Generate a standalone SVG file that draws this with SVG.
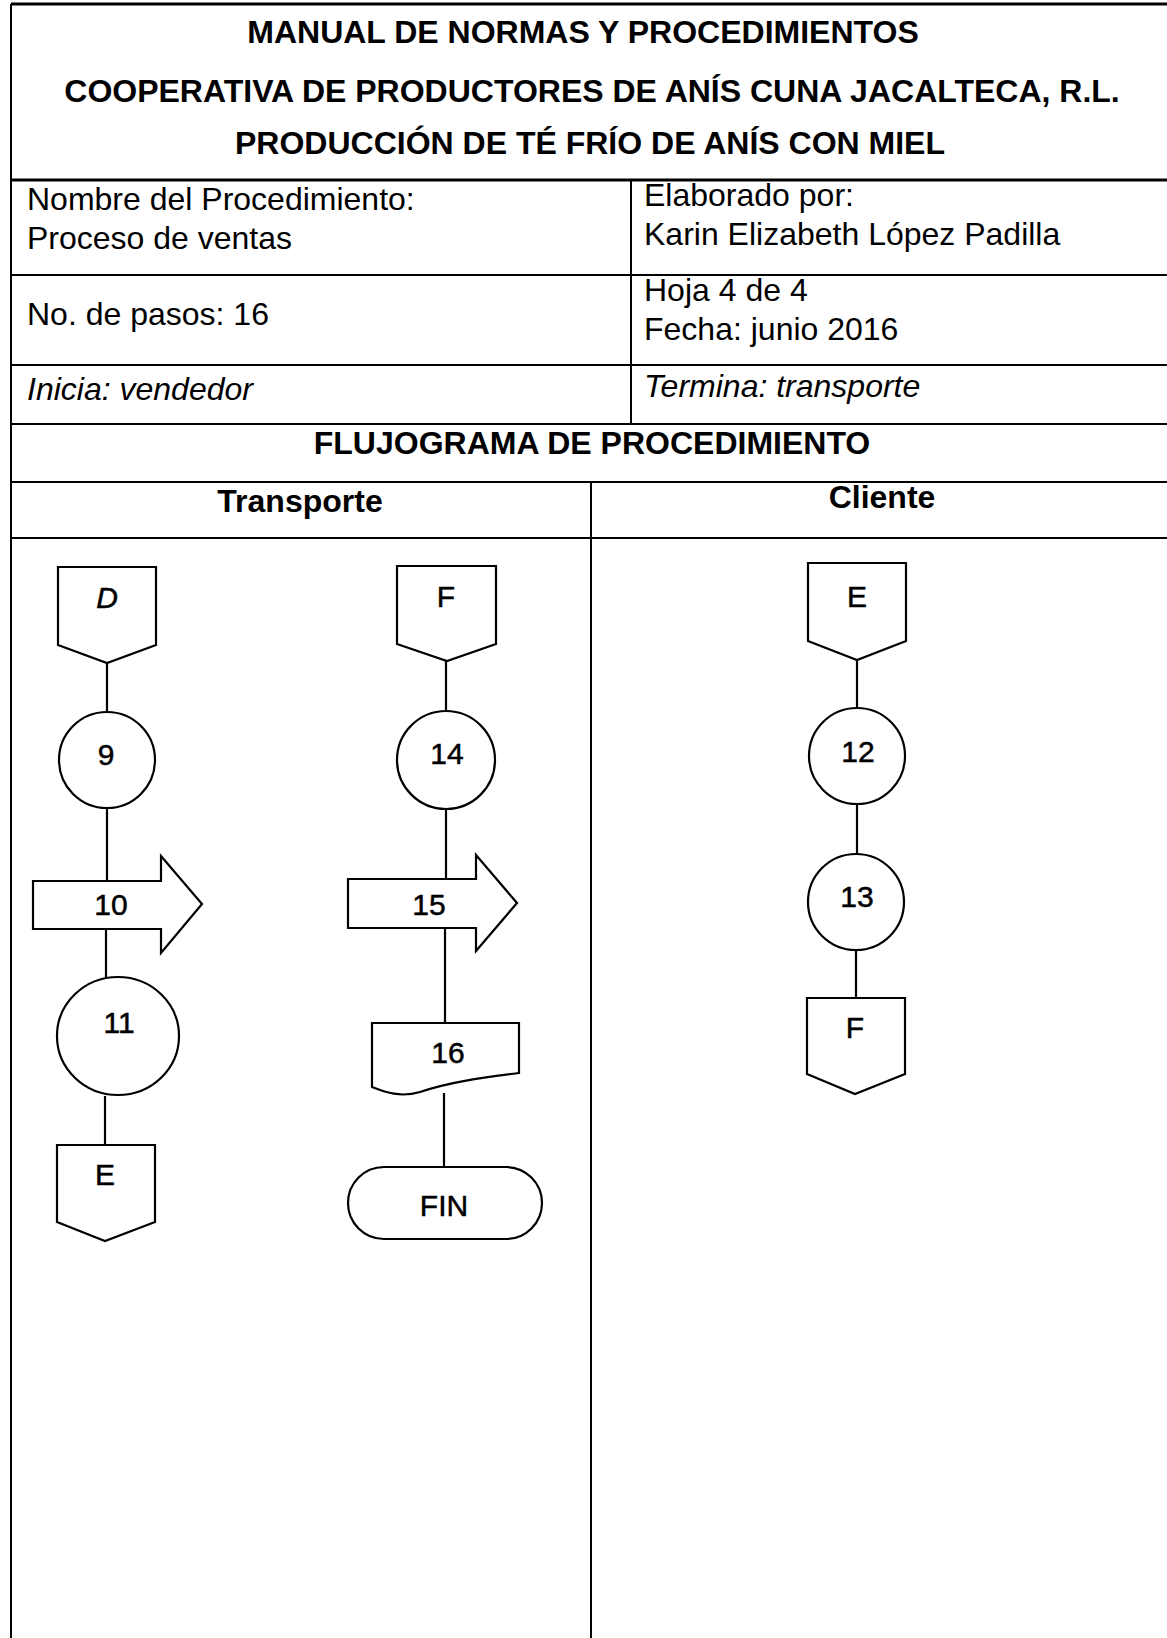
<svg xmlns="http://www.w3.org/2000/svg" width="1167" height="1638" viewBox="0 0 1167 1638">
<style>
.t{font-family:"Liberation Sans",Arial,sans-serif;fill:#000}
.b{font-weight:bold;font-size:32px}
.r{font-size:32px}
.i{font-style:italic}
.n{font-size:30px;text-anchor:middle;stroke:#000;stroke-width:0.5}
.c{text-anchor:middle}
.grid{stroke:#000;stroke-width:2;fill:none}
.shape{stroke:#000;stroke-width:2.2;fill:#fff}
.conn{stroke:#000;stroke-width:2.2;fill:none}
</style>
<rect width="1167" height="1638" fill="#fff"/>
<g id="table">
<line class="grid" x1="11" y1="4" x2="1167" y2="4" style="stroke-width:3"/>
<line class="grid" x1="11" y1="4" x2="11" y2="1638"/>
<line class="grid" x1="11" y1="180" x2="1167" y2="180" style="stroke-width:3"/>
<line class="grid" x1="11" y1="275" x2="1167" y2="275"/>
<line class="grid" x1="11" y1="365" x2="1167" y2="365"/>
<line class="grid" x1="11" y1="424" x2="1167" y2="424"/>
<line class="grid" x1="11" y1="482" x2="1167" y2="482"/>
<line class="grid" x1="11" y1="538" x2="1167" y2="538"/>
<line class="grid" x1="631" y1="180" x2="631" y2="424"/>
<line class="grid" x1="591" y1="482" x2="591" y2="1638"/>
<text class="t b c" x="583" y="43">MANUAL DE NORMAS Y PROCEDIMIENTOS</text>
<text class="t b c" x="592" y="102">COOPERATIVA DE PRODUCTORES DE ANÍS CUNA JACALTECA, R.L.</text>
<text class="t b c" x="590" y="154">PRODUCCIÓN DE TÉ FRÍO DE ANÍS CON MIEL</text>
<text class="t r" x="27" y="210">Nombre del Procedimiento:</text>
<text class="t r" x="27" y="249">Proceso de ventas</text>
<text class="t r" x="644" y="206">Elaborado por:</text>
<text class="t r" x="644" y="245">Karin Elizabeth López Padilla</text>
<text class="t r" x="27" y="325">No. de pasos: 16</text>
<text class="t r" x="644" y="301">Hoja 4 de 4</text>
<text class="t r" x="644" y="340">Fecha: junio 2016</text>
<text class="t r i" x="27" y="400">Inicia: vendedor</text>
<text class="t r i" x="644" y="397">Termina: transporte</text>
<text class="t b c" x="592" y="454">FLUJOGRAMA DE PROCEDIMIENTO</text>
<text class="t b c" x="300" y="512">Transporte</text>
<text class="t b c" x="882" y="508">Cliente</text>
</g>
<g id="connectors">
<line class="conn" x1="107" y1="663" x2="107" y2="712"/>
<line class="conn" x1="107" y1="808" x2="107" y2="881"/>
<line class="conn" x1="106" y1="929" x2="106" y2="977"/>
<line class="conn" x1="105" y1="1096" x2="105" y2="1145"/>
<line class="conn" x1="446" y1="661" x2="446" y2="711"/>
<line class="conn" x1="446" y1="808" x2="446" y2="879"/>
<line class="conn" x1="445" y1="928" x2="445" y2="1023"/>
<line class="conn" x1="444" y1="1093" x2="444" y2="1167"/>
<line class="conn" x1="857" y1="660" x2="857" y2="708"/>
<line class="conn" x1="857" y1="804" x2="857" y2="854"/>
<line class="conn" x1="856" y1="950" x2="856" y2="998"/>
</g>
<g id="nodeD">
<path class="shape" d="M58,567 L156,567 L156,645 L107,663 L58,645 Z"/>
<text class="t n i" x="107" y="608">D</text>
</g>
<g id="node9">
<circle class="shape" cx="107" cy="760" r="48"/>
<text class="t n" x="106" y="765">9</text>
</g>
<g id="node10">
<path class="shape" d="M33,881 L161,881 L161,856 L202,904 L161,953 L161,929 L33,929 Z"/>
<text class="t n" x="111" y="915">10</text>
</g>
<g id="node11">
<ellipse class="shape" cx="118" cy="1036" rx="61" ry="59"/>
<text class="t n" x="119" y="1033">11</text>
</g>
<g id="nodeE1">
<path class="shape" d="M57,1145 L155,1145 L155,1222 L105,1241 L57,1222 Z"/>
<text class="t n" x="105" y="1185">E</text>
</g>
<g id="nodeF1">
<path class="shape" d="M397,566 L496,566 L496,644 L447,661 L397,644 Z"/>
<text class="t n" x="446" y="607">F</text>
</g>
<g id="node14">
<circle class="shape" cx="446" cy="760" r="49"/>
<text class="t n" x="447" y="764">14</text>
</g>
<g id="node15">
<path class="shape" d="M348,879 L476,879 L476,855 L517,903 L476,951 L476,928 L348,928 Z"/>
<text class="t n" x="429" y="915">15</text>
</g>
<g id="node16">
<path class="shape" d="M372,1023 L519,1023 L519,1073 C480,1078 450,1082 420,1092 C400,1098 385,1092 372,1087 Z"/>
<text class="t n" x="448" y="1063">16</text>
</g>
<g id="nodeFIN">
<rect class="shape" x="348" y="1167" width="194" height="72" rx="36" ry="36"/>
<text class="t n" x="444" y="1216">FIN</text>
</g>
<g id="nodeE2">
<path class="shape" d="M808,563 L906,563 L906,641 L857,660 L808,641 Z"/>
<text class="t n" x="857" y="607">E</text>
</g>
<g id="node12">
<circle class="shape" cx="857" cy="756" r="48"/>
<text class="t n" x="858" y="762">12</text>
</g>
<g id="node13">
<circle class="shape" cx="856" cy="902" r="48"/>
<text class="t n" x="857" y="907">13</text>
</g>
<g id="nodeF2">
<path class="shape" d="M807,998 L905,998 L905,1074 L855,1094 L807,1074 Z"/>
<text class="t n" x="855" y="1038">F</text>
</g>
</svg>
